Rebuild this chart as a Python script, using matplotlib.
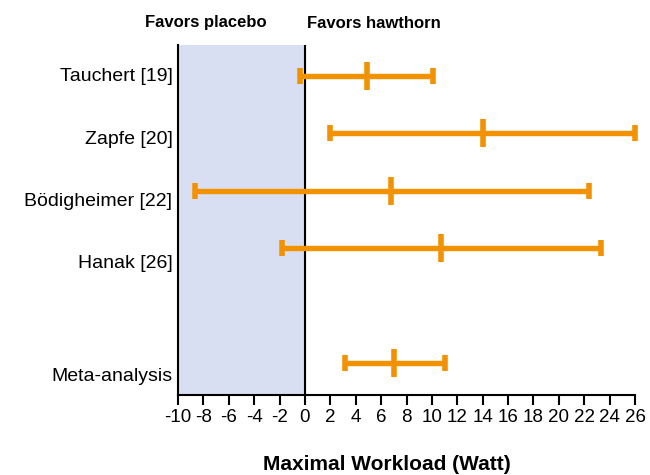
import matplotlib
matplotlib.use("Agg")
import matplotlib.pyplot as plt
import numpy as np

plt.rcParams['font.family'] = ['Liberation Sans', 'DejaVu Sans']

studies = ["Tauchert [19]", "Zapfe [20]", "Bödigheimer [22]", "Hanak [26]", "Meta-analysis"]
positions = [0, 1, 2, 3, 5]
label_positions = [-0.03, 1.07, 2.16, 3.24, 5.21]
means = [4.9, 14.0, 6.75, 10.7, 7.05]
lower = [-0.4, 2.0, -8.7, -1.8, 3.15]
upper = [10.1, 26.0, 22.4, 23.3, 11.0]
xticks = list(range(-10, 27, 2))

orange = "#F39200"

fig = plt.figure(figsize=(6.5, 4.75), dpi=100)
ax = fig.add_axes([178/650, 1-395/475, (635-178)/650, (395-45)/475])

ax.axvspan(-10, 0, color="#D9DFF2", zorder=0)
ax.axvline(0, color="black", lw=1.5, zorder=1)

m = np.array(means)
lo = np.array(lower)
hi = np.array(upper)
ax.errorbar(m, positions, xerr=[m - lo, hi - m], fmt='none', ecolor=orange,
            elinewidth=3.9, capsize=6.0, capthick=4.0, zorder=3, clip_on=False)
ax.plot(m, positions, linestyle='none', marker='|', markersize=20,
        markeredgewidth=4.0, color=orange, zorder=4)

ax.set_xlim(-10, 26)
ax.set_ylim(5.56, -0.54)
ax.set_xticks(xticks)
ax.set_xticklabels([str(t) for t in xticks], fontsize=13.5)
ax.set_yticks(label_positions)
ax.set_yticklabels(studies, fontsize=14)
ax.tick_params(axis='y', length=0, pad=4)
ax.tick_params(axis='x', length=7, width=1.5, direction='out', pad=3)

for s in ['top', 'right']:
    ax.spines[s].set_visible(False)
ax.spines['left'].set_linewidth(1.5)
ax.spines['bottom'].set_linewidth(1.5)

fig.text(206/650, 1-23/475, "Favors placebo", ha='center', va='center',
         fontsize=12, fontweight='bold')
fig.text(374/650, 1-23/475, "Favors hawthorn", ha='center', va='center',
         fontsize=12, fontweight='bold')
fig.text(387/650, 1-464/475, "Maximal Workload (Watt)", ha='center', va='center',
         fontsize=15, fontweight='bold')

fig.savefig("out.png", dpi=100)
